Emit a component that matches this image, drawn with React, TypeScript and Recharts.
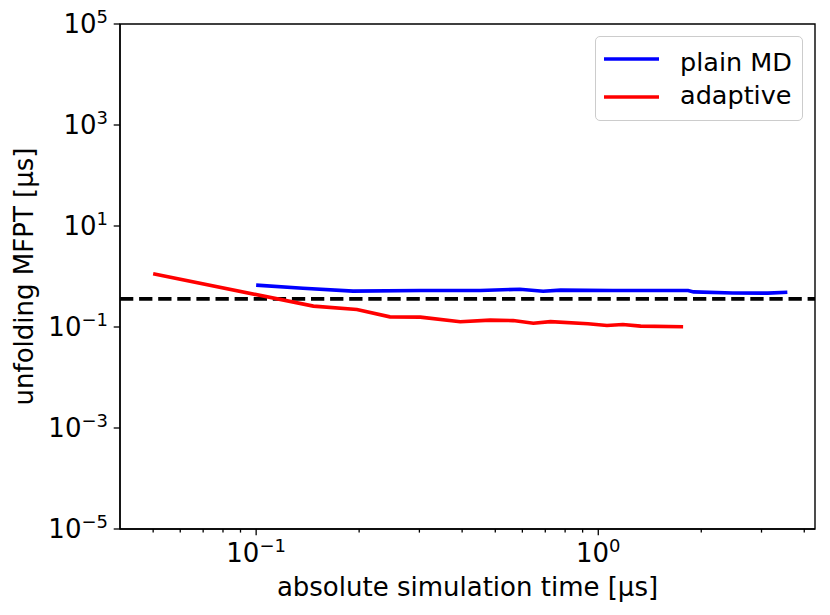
import React from 'react';
import { LineChart, Line, XAxis, YAxis, ReferenceLine, ReferenceArea, Legend } from 'recharts';

const FONT = '"DejaVu Sans", sans-serif';

// plain MD run (x: absolute simulation time [µs], y: MFPT [µs])
const plainX = [0.1, 0.137, 0.192, 0.302, 0.452, 0.59, 0.69, 0.776, 1.1, 1.83, 1.9, 2.47, 3.13, 3.57];
const plainY = [0.674, 0.587, 0.513, 0.527, 0.527, 0.56, 0.51, 0.537, 0.527, 0.527, 0.495, 0.47, 0.468, 0.488];

// adaptive sampling run
const adaptiveX = [0.05, 0.147, 0.197, 0.246, 0.302, 0.395, 0.483, 0.564, 0.646, 0.725, 0.933, 1.06, 1.18, 1.33, 1.77];
const adaptiveY = [1.13, 0.259, 0.222, 0.159, 0.157, 0.127, 0.137, 0.134, 0.119, 0.128, 0.116, 0.107, 0.112, 0.104, 0.101];

const referenceMFPT = 0.361;

const xDomain = [0.04, 4.3];
const yDomain = [1e-5, 1e5];
const xMajorTicks = [0.1, 1];
const xMinorTicks = [0.05, 0.06, 0.07, 0.08, 0.09, 0.2, 0.3, 0.4, 0.5, 0.6, 0.7, 0.8, 0.9, 2, 3, 4];
const yTicks = [1e-5, 1e-3, 1e-1, 1e1, 1e3, 1e5];

const series = [
  { name: 'plain MD', color: '#0000ff' },
  { name: 'adaptive', color: '#ff0000' },
];

const plainData = plainX.map((x, i) => ({ x, y: plainY[i] }));
const adaptiveData = adaptiveX.map((x, i) => ({ x, y: adaptiveY[i] }));

const exponent = (v: number) => {
  const e = Math.round(Math.log10(v));
  return e < 0 ? '\u2212' + Math.abs(e) : String(e);
};

const XTick = (props: any) => {
  const { x, y, payload } = props;
  const isMajor = xMajorTicks.includes(payload.value);
  return (
    <g>
      <line x1={x} x2={x} y1={y} y2={y + (isMajor ? 6.3 : 3.6)} stroke="#000" strokeWidth={1.3} />
      {isMajor && (
        <text x={x} y={y + 33} textAnchor="middle" fontFamily={FONT} fontSize={26} fill="#000">
          10
          <tspan dy={-10} fontSize={18}>{exponent(payload.value)}</tspan>
        </text>
      )}
    </g>
  );
};

const YTick = (props: any) => {
  const { x, y, payload } = props;
  return (
    <g>
      <line x1={x - 6.3} x2={x} y1={y} y2={y} stroke="#000" strokeWidth={1.3} />
      <text x={x - 12} y={y + 9} textAnchor="end" fontFamily={FONT} fontSize={26} fill="#000">
        10
        <tspan dy={-10} fontSize={18}>{exponent(payload.value)}</tspan>
      </text>
    </g>
  );
};

const XTitle = (props: any) => {
  const { viewBox } = props;
  return (
    <text x={viewBox.x + viewBox.width / 2} y={viewBox.y + 67} textAnchor="middle" fontFamily={FONT} fontSize={26} fill="#000">
      absolute simulation time [µs]
    </text>
  );
};

const YTitle = (props: any) => {
  const { viewBox } = props;
  const cx = viewBox.x + 33;
  const cy = viewBox.y + viewBox.height / 2;
  return (
    <text x={cx} y={cy} transform={`rotate(-90 ${cx} ${cy})`} textAnchor="middle" fontFamily={FONT} fontSize={26} fill="#000">
      unfolding MFPT [µs]
    </text>
  );
};

const LegendBox = () => (
  <div
    style={{
      position: 'relative',
      width: 206,
      height: 83,
      border: '1px solid #cccccc',
      borderRadius: 5,
      background: 'rgba(255,255,255,0.8)',
    }}
  >
    <svg width={206} height={83} style={{ position: 'absolute', left: 0, top: 0 }}>
      {series.map((s, i) => (
        <g key={s.name}>
          <line x1={8} x2={63} y1={22 + i * 38} y2={22 + i * 38} stroke={s.color} strokeWidth={3.6} />
          <text x={84} y={33.5 + i * 33.5} fontFamily={FONT} fontSize={25.5} fill="#000">
            {s.name}
          </text>
        </g>
      ))}
    </svg>
  </div>
);

export default function App() {
  return (
    <div style={{ position: 'absolute', left: 0, top: 0, width: 830, height: 615, background: '#fff' }}>
      <LineChart width={830} height={615} margin={{ top: 24, right: 15, bottom: 0, left: 0 }}>
        <XAxis
          dataKey="x"
          type="number"
          scale="log"
          domain={xDomain}
          allowDataOverflow
          ticks={[...xMajorTicks, ...xMinorTicks]}
          interval={0}
          tick={<XTick />}
          tickLine={false}
          tickSize={0}
          tickMargin={0}
          height={86}
          axisLine={{ stroke: '#000', strokeWidth: 1.4 }}
          label={<XTitle />}
        />
        <YAxis
          dataKey="y"
          type="number"
          scale="log"
          domain={yDomain}
          allowDataOverflow
          ticks={yTicks}
          interval={0}
          tick={<YTick />}
          tickLine={false}
          tickSize={0}
          tickMargin={0}
          width={120}
          axisLine={{ stroke: '#000', strokeWidth: 1.4 }}
          label={<YTitle />}
        />
        <ReferenceArea
          x1={xDomain[0]}
          x2={xDomain[1]}
          y1={yDomain[0]}
          y2={yDomain[1]}
          fill="none"
          fillOpacity={0}
          stroke="#000"
          strokeWidth={1.4}
          ifOverflow="visible"
        />
        <ReferenceLine y={referenceMFPT} stroke="#000" strokeWidth={3.6} strokeDasharray="13.3 5.8" />
        <Line
          data={plainData}
          dataKey="y"
          name={series[0].name}
          type="linear"
          stroke={series[0].color}
          strokeWidth={3.6}
          dot={false}
          isAnimationActive={false}
        />
        <Line
          data={adaptiveData}
          dataKey="y"
          name={series[1].name}
          type="linear"
          stroke={series[1].color}
          strokeWidth={3.6}
          dot={false}
          isAnimationActive={false}
        />
        <Legend
          layout="horizontal"
          verticalAlign="middle"
          align="center"
          content={<LegendBox />}
          wrapperStyle={{ position: 'absolute', left: 595, top: 36, width: 208, height: 85 }}
        />
      </LineChart>
    </div>
  );
}
